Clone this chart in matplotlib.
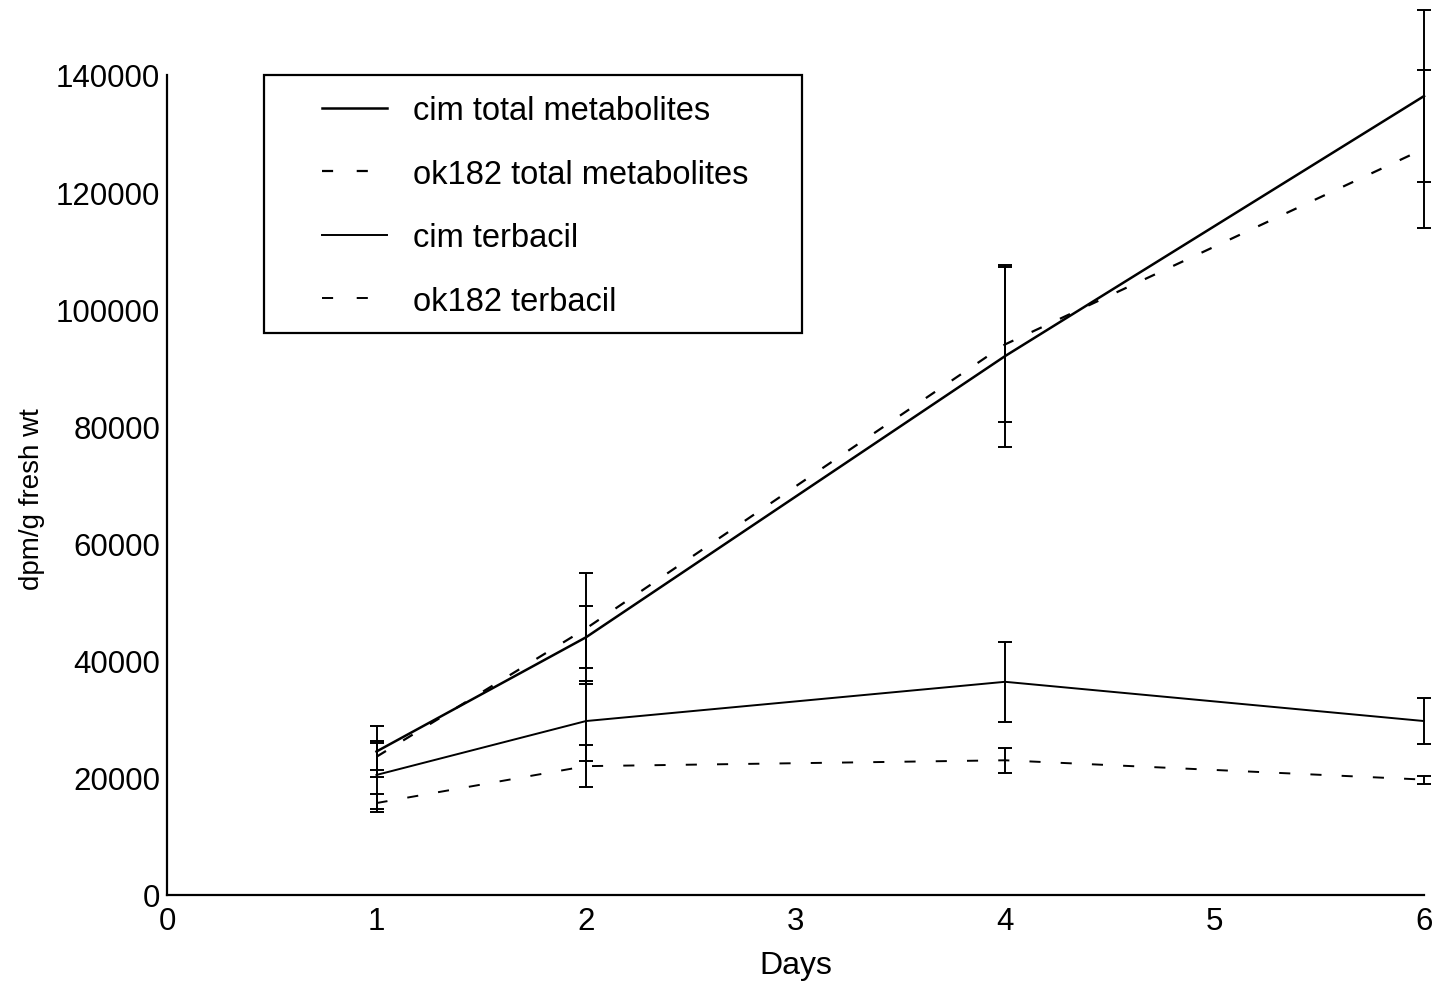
import matplotlib
matplotlib.use("Agg")
import matplotlib.pyplot as plt
from matplotlib.patches import Rectangle
from matplotlib.legend_handler import HandlerLine2D

plt.rcParams["font.family"] = ["Liberation Sans", "DejaVu Sans"]
plt.rcParams["lines.scale_dashes"] = False

days = [1, 2, 4, 6]
cim_total = [24500, 44000, 92000, 136400]
cim_total_err = [4300, 5300, 15500, 14700]
ok_total = [23600, 45500, 94000, 127400]
ok_total_err = [2300, 9500, 13300, 13500]
cim_terb = [20500, 29700, 36400, 29700]
cim_terb_err = [5800, 6900, 6800, 3900]
ok_terb = [15700, 22000, 23000, 19700]
ok_terb_err = [1600, 3600, 2100, 700]

W, H = 1435, 987
fig = plt.figure(figsize=(W / 100, H / 100), dpi=100)
ax = fig.add_axes([167 / W, (H - 896) / H, (1424 - 167) / W, (896 - 76) / H])

dash = (0, (8, 14.5))
series = [
    (cim_total, cim_total_err, "-", 1.8, "cim total metabolites"),
    (ok_total, ok_total_err, dash, 1.6, "ok182 total metabolites"),
    (cim_terb, cim_terb_err, "-", 1.4, "cim terbacil"),
    (ok_terb, ok_terb_err, dash, 1.4, "ok182 terbacil"),
]
for vals, errs, ls, lw, lab in series:
    ax.plot(days, vals, color="black", linestyle=ls, linewidth=lw, label=lab, clip_on=False)
    ax.errorbar(days, vals, yerr=errs, fmt="none", ecolor="black", elinewidth=1.4,
                capsize=5, capthick=1.4, clip_on=False)

ax.set_xlim(0, 6)
ax.set_ylim(0, 140000)
ax.set_xticks(range(0, 7))
ax.set_yticks(range(0, 140001, 20000))
ax.tick_params(labelsize=22.5, length=0)
ax.tick_params(axis="x", pad=8)
ax.tick_params(axis="y", pad=5)
ax.spines["top"].set_visible(False)
ax.spines["right"].set_visible(False)
ax.spines["left"].set_linewidth(1.6)
ax.spines["bottom"].set_linewidth(1.6)
ax.set_xlabel("Days", fontsize=23, labelpad=10)
ax.set_ylabel("dpm/g fresh wt", fontsize=20)
ax.yaxis.set_label_coords(-0.097, 0.484)


def leg_dash(handle, orig):
    handle.update_from(orig)
    if orig.get_linestyle() != "-":
        handle.set_linestyle((0, (8, 17)))


# legend box
fig.patches.append(Rectangle((264 / W, (H - 334) / H), (802 - 264) / W, (334 - 76) / H,
                             transform=fig.transFigure, fill=False, edgecolor="black",
                             linewidth=1.6))
leg = ax.legend(loc="upper left", bbox_to_anchor=(322 / W, (H - 96) / H),
                bbox_transform=fig.transFigure, fontsize=23.5, frameon=False,
                handlelength=2.0, handletextpad=0.8, labelspacing=1.0,
                borderpad=0, borderaxespad=0,
                handler_map={matplotlib.lines.Line2D: HandlerLine2D(update_func=leg_dash)})

fig.savefig("out.png", dpi=100, facecolor="white")
